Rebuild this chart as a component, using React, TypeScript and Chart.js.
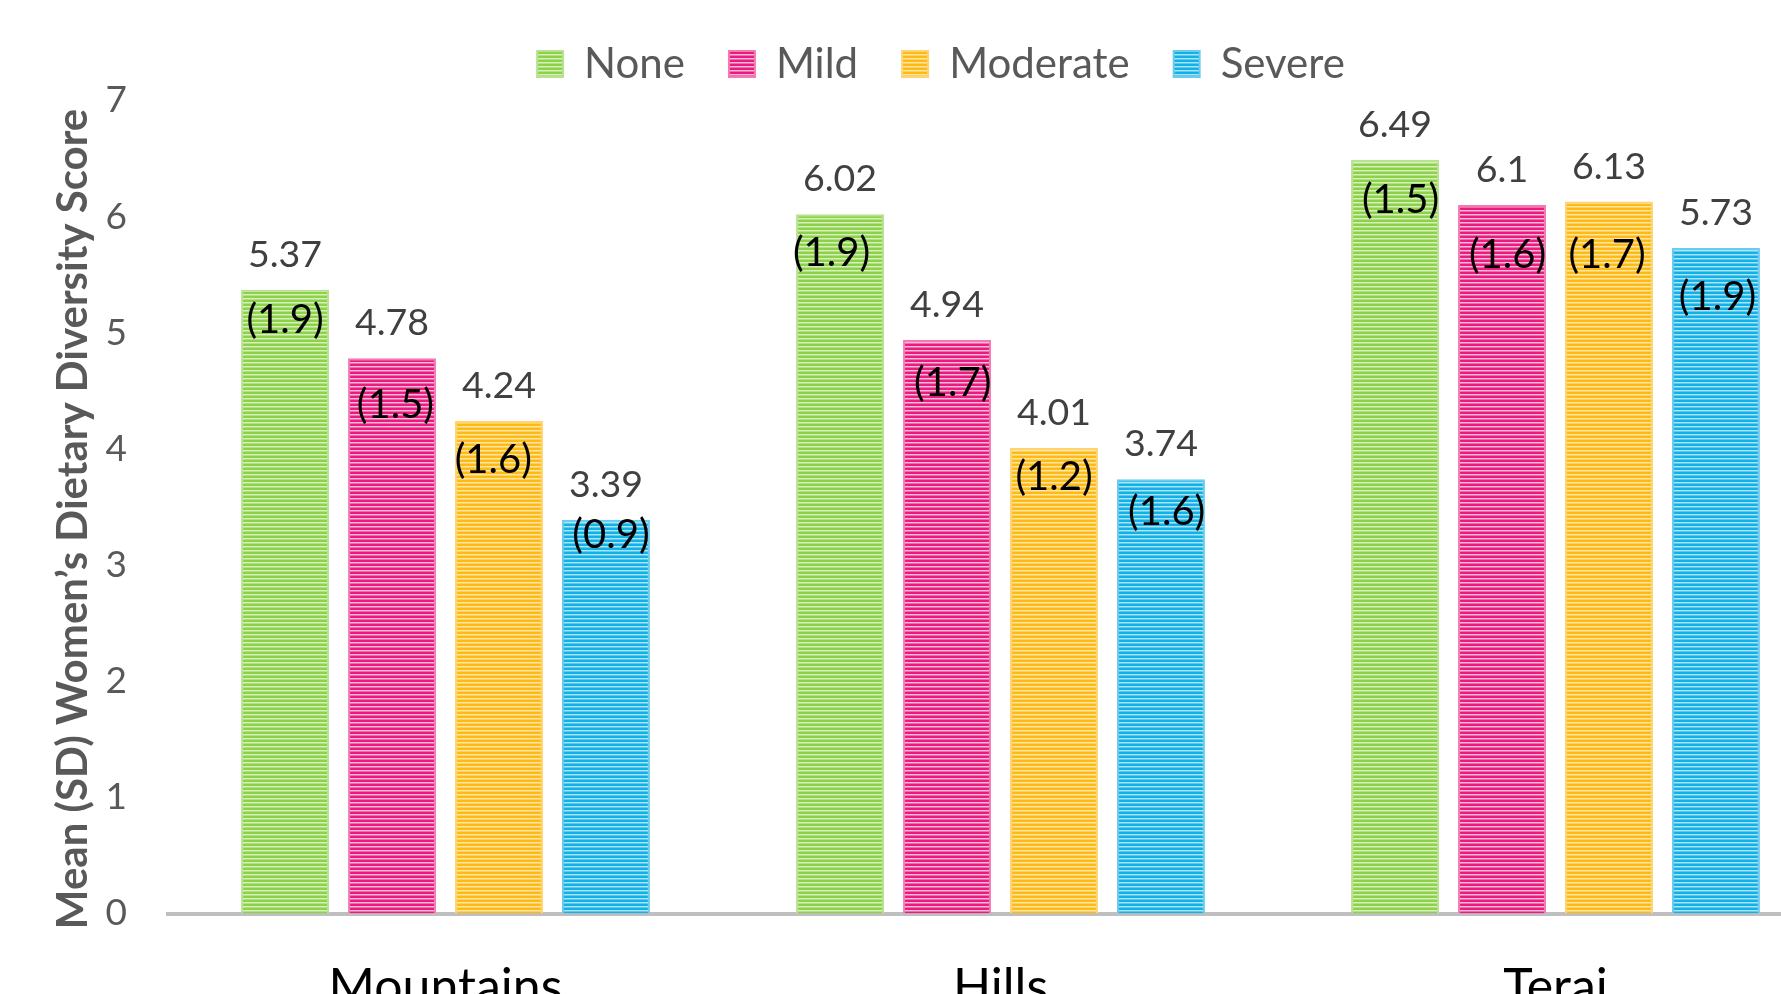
import React, { useEffect, useRef } from 'react';
import { Chart, registerables } from 'chart.js';

Chart.register(...registerables);

// ---------- data ----------
const categories = ['Mountains', 'Hills', 'Terai'];
const seriesNames = ['None', 'Mild', 'Moderate', 'Severe'];
const noneMeans = [5.37, 6.02, 6.49];
const mildMeans = [4.78, 4.94, 6.1];
const moderateMeans = [4.24, 4.01, 6.13];
const severeMeans = [3.39, 3.74, 5.73];
const noneSD = [1.9, 1.9, 1.5];
const mildSD = [1.5, 1.7, 1.6];
const moderateSD = [1.6, 1.2, 1.7];
const severeSD = [0.9, 1.6, 1.9];
const yTicks = [0, 1, 2, 3, 4, 5, 6, 7];
const yAxisTitle = 'Mean (SD) Women’s Dietary Diversity Score';

// ---------- layout / style (not data) ----------
const darkColors = ['#8DD04A', '#EA1A7F', '#FDBA14', '#10B1E6'];
const lightColors = ['#D6F1BC', '#F9BCD9', '#FFE5A6', '#AEE3F7'];
const edgeColors = ['#B8E292', '#F27BB3', '#FFD470', '#6ACBEE'];
// SD label offsets [dx, dy] from bar top-centre, px
const sdOffsets = [
  [[0, 30], [-8.5, 38.5], [5.5, 40]],
  [[3.4, 46.6], [5.7, 43], [5.5, 50]],
  [[-5.7, 38.6], [0, 29.5], [-2, 54]],
  [[5, 15], [5.7, 33], [1.5, 49.5]],
];

const CANVAS_W = 1784;
const CANVAS_H = 1060;
const PLOT_BOTTOM = 913.5;
const Y_AXIS_W = 119;
const FONT = 'Lato';

function mix(a: string, b: string) {
  const pa = [1, 3, 5].map((i) => parseInt(a.slice(i, i + 2), 16));
  const pb = [1, 3, 5].map((i) => parseInt(b.slice(i, i + 2), 16));
  return 'rgb(' + pa.map((v, k) => Math.round((v + pb[k]) / 2)).join(',') + ')';
}

function makeStripe(dark: string, light: string): CanvasPattern | string {
  const c = document.createElement('canvas');
  c.width = 4;
  c.height = 4;
  const g = c.getContext('2d');
  if (!g) return dark;
  g.fillStyle = dark;
  g.fillRect(0, 0, 4, 2);
  g.fillStyle = light;
  g.fillRect(0, 2, 4, 1);
  g.fillStyle = mix(dark, light);
  g.fillRect(0, 3, 4, 1);
  const p = g.createPattern(c, 'repeat');
  return p || dark;
}

export default function App() {
  const ref = useRef<HTMLCanvasElement>(null);

  useEffect(() => {
    if (!ref.current) return;
    const means = [noneMeans, mildMeans, moderateMeans, severeMeans];
    const sds = [noneSD, mildSD, moderateSD, severeSD];

    const datasets = seriesNames.map((name, i) => ({
      label: name,
      data: means[i],
      backgroundColor: makeStripe(darkColors[i], lightColors[i]),
      borderColor: edgeColors[i],
      borderWidth: 2,
      borderSkipped: 'bottom' as const,
      categoryPercentage: 0.771,
      barPercentage: 0.822,
    }));

    const labelPlugin = {
      id: 'barLabels',
      afterDatasetsDraw(chart: any) {
        const ctx = chart.ctx;
        ctx.save();
        chart.data.datasets.forEach((ds: any, di: number) => {
          const meta = chart.getDatasetMeta(di);
          meta.data.forEach((bar: any, ci: number) => {
            const v = ds.data[ci];
            ctx.font = `37.5px ${FONT}`;
            ctx.fillStyle = '#404040';
            ctx.textAlign = 'center';
            ctx.textBaseline = 'alphabetic';
            ctx.fillText(String(v), bar.x, bar.y - 23);
            const off = sdOffsets[di][ci];
            ctx.font = `40px ${FONT}`;
            ctx.fillStyle = '#000000';
            ctx.textBaseline = 'middle';
            ctx.fillText('(' + sds[di][ci].toFixed(1) + ')', bar.x + off[0], bar.y + off[1]);
          });
        });
        ctx.restore();
      },
    };

    const titlePlugin = {
      id: 'yTitle',
      afterDraw(chart: any) {
        const ctx = chart.ctx;
        ctx.save();
        ctx.translate(24, 519);
        ctx.rotate(-Math.PI / 2);
        ctx.font = `bold 42px ${FONT}`;
        ctx.fillStyle = '#595959';
        ctx.textAlign = 'center';
        ctx.textBaseline = 'middle';
        ctx.fillText(yAxisTitle, 0, 0);
        ctx.restore();
      },
    };

    const legendShift = {
      id: 'legendShift',
      afterLayout(chart: any) {
        const l = chart.legend;
        if (l) {
          l.top -= 5.5;
          l.bottom -= 5.5;
        }
      },
    };

    const chart = new Chart(ref.current, {
      type: 'bar',
      data: { labels: categories, datasets },
      options: {
        responsive: false,
        animation: false,
        devicePixelRatio: 1,
        layout: { padding: { top: 4.5, left: 0, right: 0, bottom: 0 } },
        plugins: {
          legend: {
            position: 'top',
            labels: {
              boxWidth: 26,
              boxHeight: 26,
              padding: 44,
              color: '#595959',
              font: { family: FONT, size: 42 },
            },
          },
          tooltip: { enabled: false },
        },
        scales: {
          x: {
            grid: { display: false, drawTicks: false },
            border: { display: true, color: '#BFBFBF', width: 4 },
            ticks: {
              color: '#000000',
              padding: 44,
              font: { family: FONT, size: 50 },
              maxRotation: 0,
            },
            afterFit(scale: any) {
              scale.height = CANVAS_H - PLOT_BOTTOM;
            },
          },
          y: {
            min: 0,
            max: 7,
            grid: { display: false, drawTicks: false },
            border: { display: false },
            ticks: {
              color: '#595959',
              padding: 41,
              font: { family: FONT, size: 37 },
            },
            afterBuildTicks(scale: any) {
              scale.ticks = yTicks.map((v) => ({ value: v }));
            },
            afterFit(scale: any) {
              scale.width = Y_AXIS_W;
            },
          },
        },
      },
      plugins: [labelPlugin, titlePlugin, legendShift],
    } as any);

    return () => chart.destroy();
  }, []);

  return (
    <div
      style={{
        position: 'fixed',
        left: 0,
        top: 0,
        width: 1781,
        height: 994,
        overflow: 'hidden',
        background: '#ffffff',
      }}
    >
      <canvas
        ref={ref}
        width={CANVAS_W}
        height={CANVAS_H}
        style={{ position: 'absolute', left: 49, top: 0, width: CANVAS_W, height: CANVAS_H }}
      />
    </div>
  );
}
